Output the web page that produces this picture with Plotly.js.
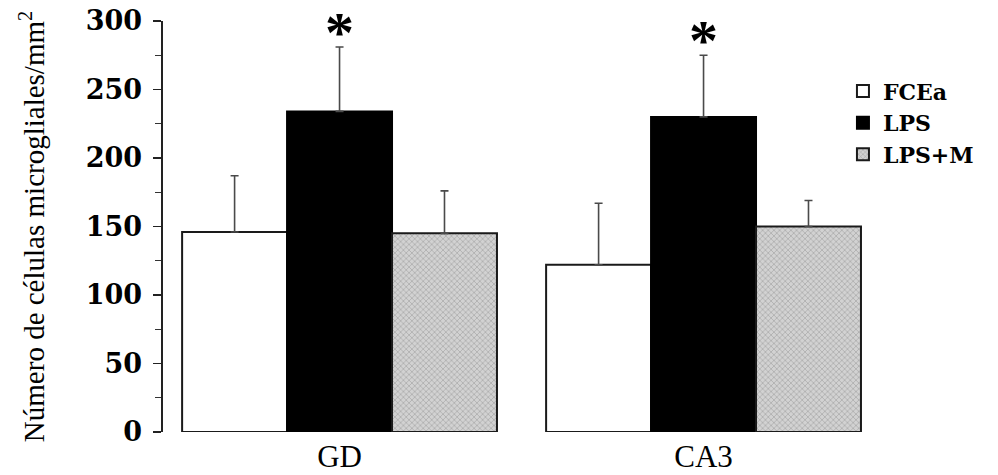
<!DOCTYPE html>
<html>
<head>
<meta charset="utf-8">
<script src="https://cdn.plot.ly/plotly-3.0.1.min.js"></script>
<style>html,body{margin:0;padding:0;background:#fff;}#chart{width:998px;height:475px;}</style>
</head>
<body>
<div id="chart"></div>
<script>
// Data
var categories = ['GD', 'CA3'];
var seriesNames = ['FCEa', 'LPS', 'LPS+M'];
var fceaValues = [146, 122];
var fceaErrors = [41, 45];
var lpsValues = [234, 230];
var lpsErrors = [47, 45];
var lpsmValues = [145, 150];
var lpsmErrors = [31, 19];
var lpsSignificance = ['*', '*'];
var yTickValues = [0, 50, 100, 150, 200, 250, 300];
var yTitle = 'Número de células microgliales/mm<sup>2</sup>';

var errStyle = function (arr) {
  return {type: 'data', array: arr, symmetric: false, arrayminus: arr.map(function () { return 0; }),
          color: '#4a4a4a', thickness: 1.6, width: 4};
};

var traces = [
  {type: 'bar', name: seriesNames[0], x: categories, y: fceaValues, error_y: errStyle(fceaErrors),
   marker: {color: '#ffffff', line: {color: '#1a1a1a', width: 2}}},
  {type: 'bar', name: seriesNames[1], x: categories, y: lpsValues, error_y: errStyle(lpsErrors),
   marker: {color: '#000000', line: {color: '#000000', width: 2}}},
  {type: 'bar', name: seriesNames[2], x: categories, y: lpsmValues, error_y: errStyle(lpsmErrors),
   marker: {color: '#c9c9c9', line: {color: '#1a1a1a', width: 2},
            pattern: {shape: 'x', size: 4, solidity: 0.25, fgcolor: '#9a9a9a', bgcolor: '#d2d2d2', fillmode: 'replace'}}}
];

var annotations = categories.map(function (c, i) {
  return {x: c, y: lpsValues[i] + lpsErrors[i], xref: 'x', yref: 'y', text: lpsSignificance[i],
          showarrow: false, yanchor: 'bottom', yshift: -20,
          font: {family: 'Liberation Serif', size: 58, color: '#000', weight: 'bold'}};
});

var layout = {
  width: 998, height: 475,
  margin: {l: 163, r: 107, t: 21, b: 43, pad: 0},
  paper_bgcolor: '#ffffff', plot_bgcolor: '#ffffff',
  barmode: 'group', bargap: 0.135, bargroupgap: 0,
  showlegend: true,
  legend: {x: 0.934, y: 0.88, xanchor: 'left', yanchor: 'top', bgcolor: 'rgba(0,0,0,0)',
           font: {family: 'DejaVu Serif', size: 22, color: '#000', weight: 'bold'},
           traceorder: 'normal', itemwidth: 30},
  xaxis: {type: 'category', range: [-0.485, 1.515], showline: false, showgrid: false, zeroline: false,
          ticks: '', tickfont: {family: 'Liberation Serif', size: 31, color: '#000'}, ticklabelstandoff: 3},
  yaxis: {range: [0, 300], tickvals: yTickValues, showline: true, linecolor: '#222', linewidth: 1.6,
          ticks: 'outside', ticklen: 8, tickwidth: 1.6, tickcolor: '#222', showgrid: false, zeroline: false,
          minor: {dtick: 25, ticks: 'outside', ticklen: 6, tickwidth: 1.4, tickcolor: '#333', showgrid: false},
          tickfont: {family: 'DejaVu Serif', size: 27, color: '#000', weight: 'bold'},
          ticklabelstandoff: 6,
          title: {text: yTitle, standoff: 32, font: {family: 'Liberation Serif', size: 29, color: '#000'}}},
  annotations: annotations
};

Plotly.newPlot('chart', traces, layout, {staticPlot: true, displayModeBar: false});
</script>
</body>
</html>
